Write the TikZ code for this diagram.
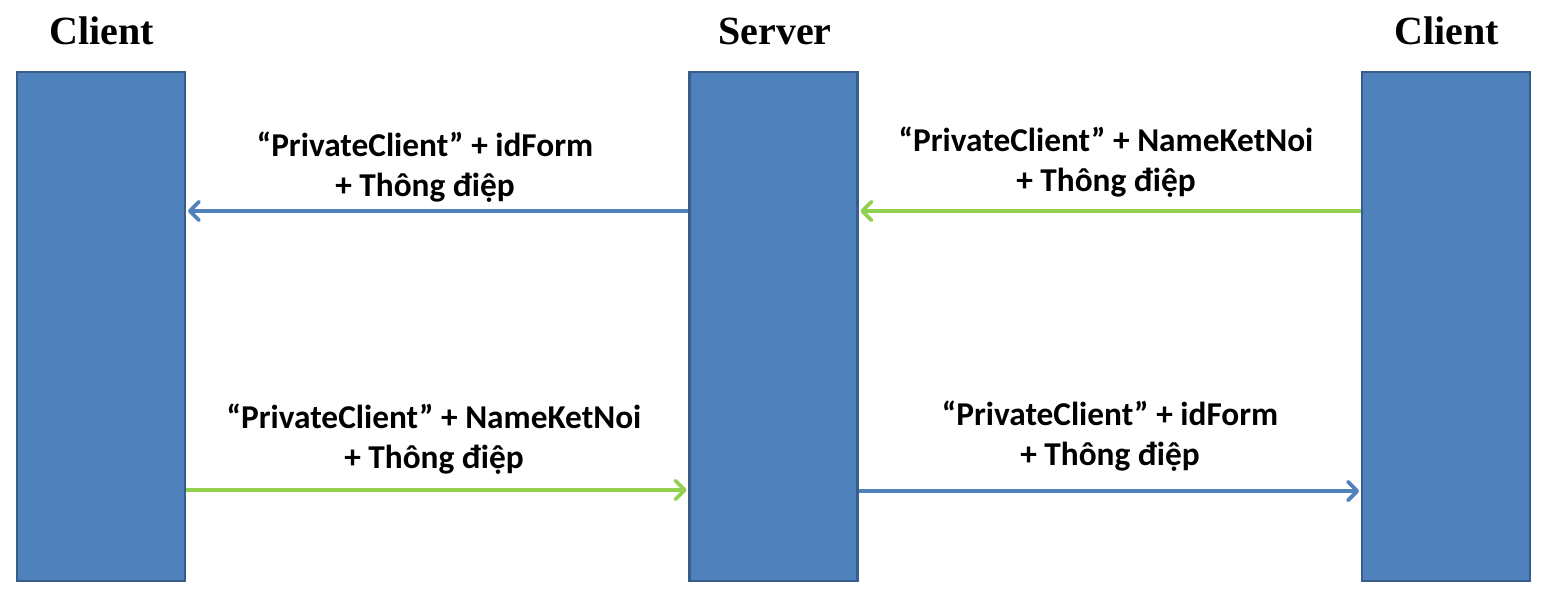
\documentclass[tikz,border=0pt]{standalone}
\usepackage{fontspec}
\usetikzlibrary{arrows.meta}
\newfontfamily\msgfont{Carlito}
\newfontfamily\headfont{Liberation Serif}
\definecolor{boxfill}{HTML}{4F81BD}
\definecolor{boxline}{HTML}{385D8A}
\definecolor{msgblue}{HTML}{4F81BD}
\definecolor{msggreen}{HTML}{92D050}
\begin{document}
\begin{tikzpicture}[
    x=0.75pt,y=-0.75pt,
    party/.style={draw=boxline,fill=boxfill,line width=1.8pt,minimum width=126pt,minimum height=382pt,inner sep=0pt},
    head/.style={anchor=base,font=\headfont\bfseries\fontsize{30}{36}\selectfont},
    msg/.style={align=center,font=\msgfont\bfseries\fontsize{25}{30.5}\selectfont,inner sep=0pt},
    amsg/.style 2 args={
    draw=#1,line width=2.8pt,
    -{Straight Barb[length=7pt,width=14pt,line width=2.8pt,line join=round,line cap=round]},
    shorten >=#2
    }
]
\useasboundingbox (0,0) rectangle (1545,601);

%Draw the parties
\node[party] (cl) at (101,326.5) {};
\node[party] (srv) at (773.5,326.5) {};
\node[party] (cr) at (1446,326.5) {};
\node[head] (hcl) at (102,44) {Client};
\node[head] (hsrv) at (775,44) {Server};
\node[head] (hcr) at (1447,44) {Client};

%Draw the messages
\node[msg] (m1) at (425,167) {“PrivateClient” + idForm\\+ Thông điệp};
\node[msg] (m2) at (1106,162) {“PrivateClient” + NameKetNoi\\+ Thông điệp};
\node[msg] (m3) at (434,439) {“PrivateClient” + NameKetNoi\\+ Thông điệp};
\node[msg] (m4) at (1110,436) {“PrivateClient” + idForm\\+ Thông điệp};

\coordinate (s1) at (srv.west |- 0,211);
\coordinate (c1) at (cl.east |- 0,211);
\coordinate (r2) at (cr.west |- 0,211);
\coordinate (s2) at (srv.east |- 0,211);
\coordinate (c3) at (cl.east |- 0,490);
\coordinate (s3) at (srv.west |- 0,490);
\coordinate (s4) at (srv.east |- 0,491);
\coordinate (r4) at (cr.west |- 0,491);

\draw[amsg={msgblue}{1.2pt}] (s1) -- (c1);
\draw[amsg={msggreen}{1.2pt}] (r2) -- (s2);
\draw[amsg={msggreen}{1.2pt}] (c3) -- (s3);
\draw[amsg={msgblue}{1.2pt}] (s4) -- (r4);

\end{tikzpicture}
\end{document}
